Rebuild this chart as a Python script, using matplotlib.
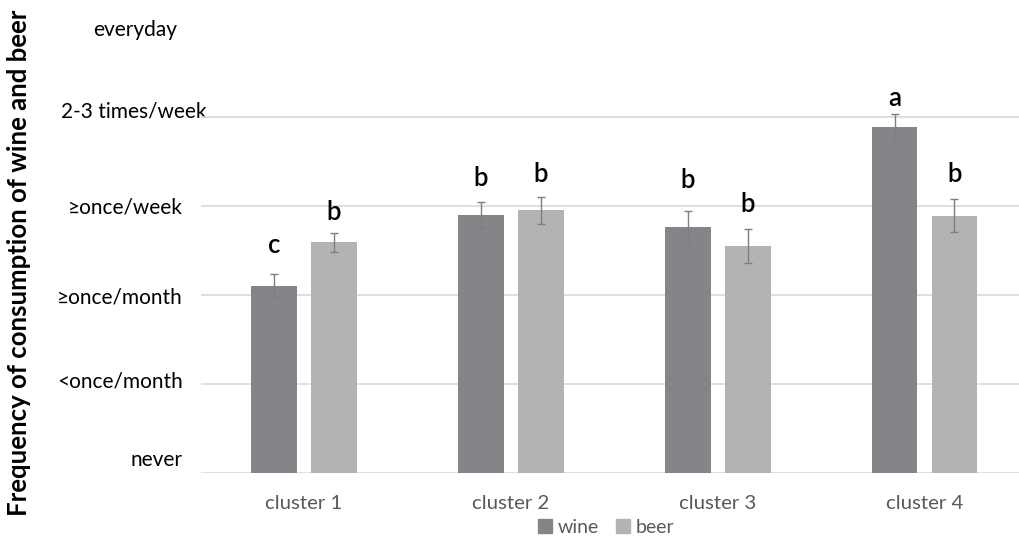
import matplotlib
matplotlib.use("Agg")
import matplotlib.pyplot as plt
import matplotlib.transforms as mtransforms
from matplotlib.patches import Patch
import numpy as np

# ---- data ----
clusters = ["cluster 1", "cluster 2", "cluster 3", "cluster 4"]
wine = [2.10, 2.90, 2.76, 3.89]
beer = [2.59, 2.95, 2.55, 2.89]
wine_err = [0.135, 0.147, 0.18, 0.14]
beer_err = [0.11, 0.15, 0.19, 0.185]
wine_letters = ["c", "b", "b", "a"]
beer_letters = ["b", "b", "b", "b"]
wine_letter_y = [2.47, 3.23, 3.20, 4.125]
beer_letter_y = [2.84, 3.27, 2.93, 3.27]
freq_labels = ["never", "<once/month", "\u2265once/month", "\u2265once/week", "2-3 times/week", "everyday"]
freq_label_y = [0.17, 1.05, 1.99, 3.01, 4.09, 5.0]
grid_levels = [0, 1, 2, 3, 4, 5]

plt.rcParams['font.family'] = ['Lato', 'DejaVu Sans']

fig = plt.figure(figsize=(10.19, 5.36), dpi=100)
ax = fig.add_axes([0.197, 0.1181, 0.803, 0.8625])

x = np.arange(len(clusters))
bw = 0.222
off = 0.145
c_wine = "#838588"
c_beer = "#B2B4B4"
ecol = "#7F7F7F"

ax.bar(x - off, wine, bw, color=c_wine, zorder=2)
ax.bar(x + off, beer, bw, color=c_beer, zorder=2)
ax.errorbar(x - off, wine, yerr=wine_err, fmt="none", ecolor=ecol, elinewidth=1, capsize=3, capthick=1, zorder=3)
ax.errorbar(x + off, beer, yerr=beer_err, fmt="none", ecolor=ecol, elinewidth=1, capsize=3, capthick=1, zorder=3)

for xi, lt, ly in zip(x - off, wine_letters, wine_letter_y):
    ax.text(xi, ly, lt, ha="center", va="baseline", fontsize=18.5, fontweight="semibold", color="black")
for xi, lt, ly in zip(x + off, beer_letters, beer_letter_y):
    ax.text(xi, ly, lt, ha="center", va="baseline", fontsize=18.5, fontweight="semibold", color="black")

ax.set_xlim(-0.5, 3.457)
ax.set_ylim(0, 5.2)

# gridlines via minor ticks
ax.set_yticks(grid_levels, minor=True)
ax.yaxis.grid(True, which="minor", color="#D9D9D9", linewidth=1.2, zorder=0)
ax.yaxis.grid(False, which="major")
ax.set_yticks(freq_label_y)
ax.set_yticklabels(freq_labels, fontsize=15, color="#000000")
ax.tick_params(axis="y", which="both", length=0, pad=13)
for tick, lab in zip(ax.yaxis.get_major_ticks(), freq_labels):
    dx = 0
    if lab == "2-3 times/week":
        dx = 24 / 100
    elif lab == "everyday":
        dx = -6 / 100
    tick.label1.set_transform(tick.label1.get_transform() + mtransforms.ScaledTranslation(dx, 0, fig.dpi_scale_trans))

ax.set_xticks(x)
ax.set_xticklabels(clusters, fontsize=14.7, color="#595959")
ax.tick_params(axis="x", length=0, pad=16)

for s in ax.spines.values():
    s.set_visible(False)
ax.set_axisbelow(True)

fig.text(0.019, 0.509, "Frequency of consumption of wine and beer", rotation=90,
         ha="center", va="center", fontsize=18.5, fontweight="bold", color="black")

handles = [Patch(color=c_wine, label="wine"), Patch(color=c_beer, label="beer")]
fig.legend(handles=handles, loc="center", bbox_to_anchor=(0.595, 0.016), ncol=2, frameon=False,
           fontsize=14, handlelength=0.7, handleheight=0.7, handletextpad=0.3, columnspacing=0.9,
           labelcolor="#595959")

fig.savefig("out.png", dpi=100)
